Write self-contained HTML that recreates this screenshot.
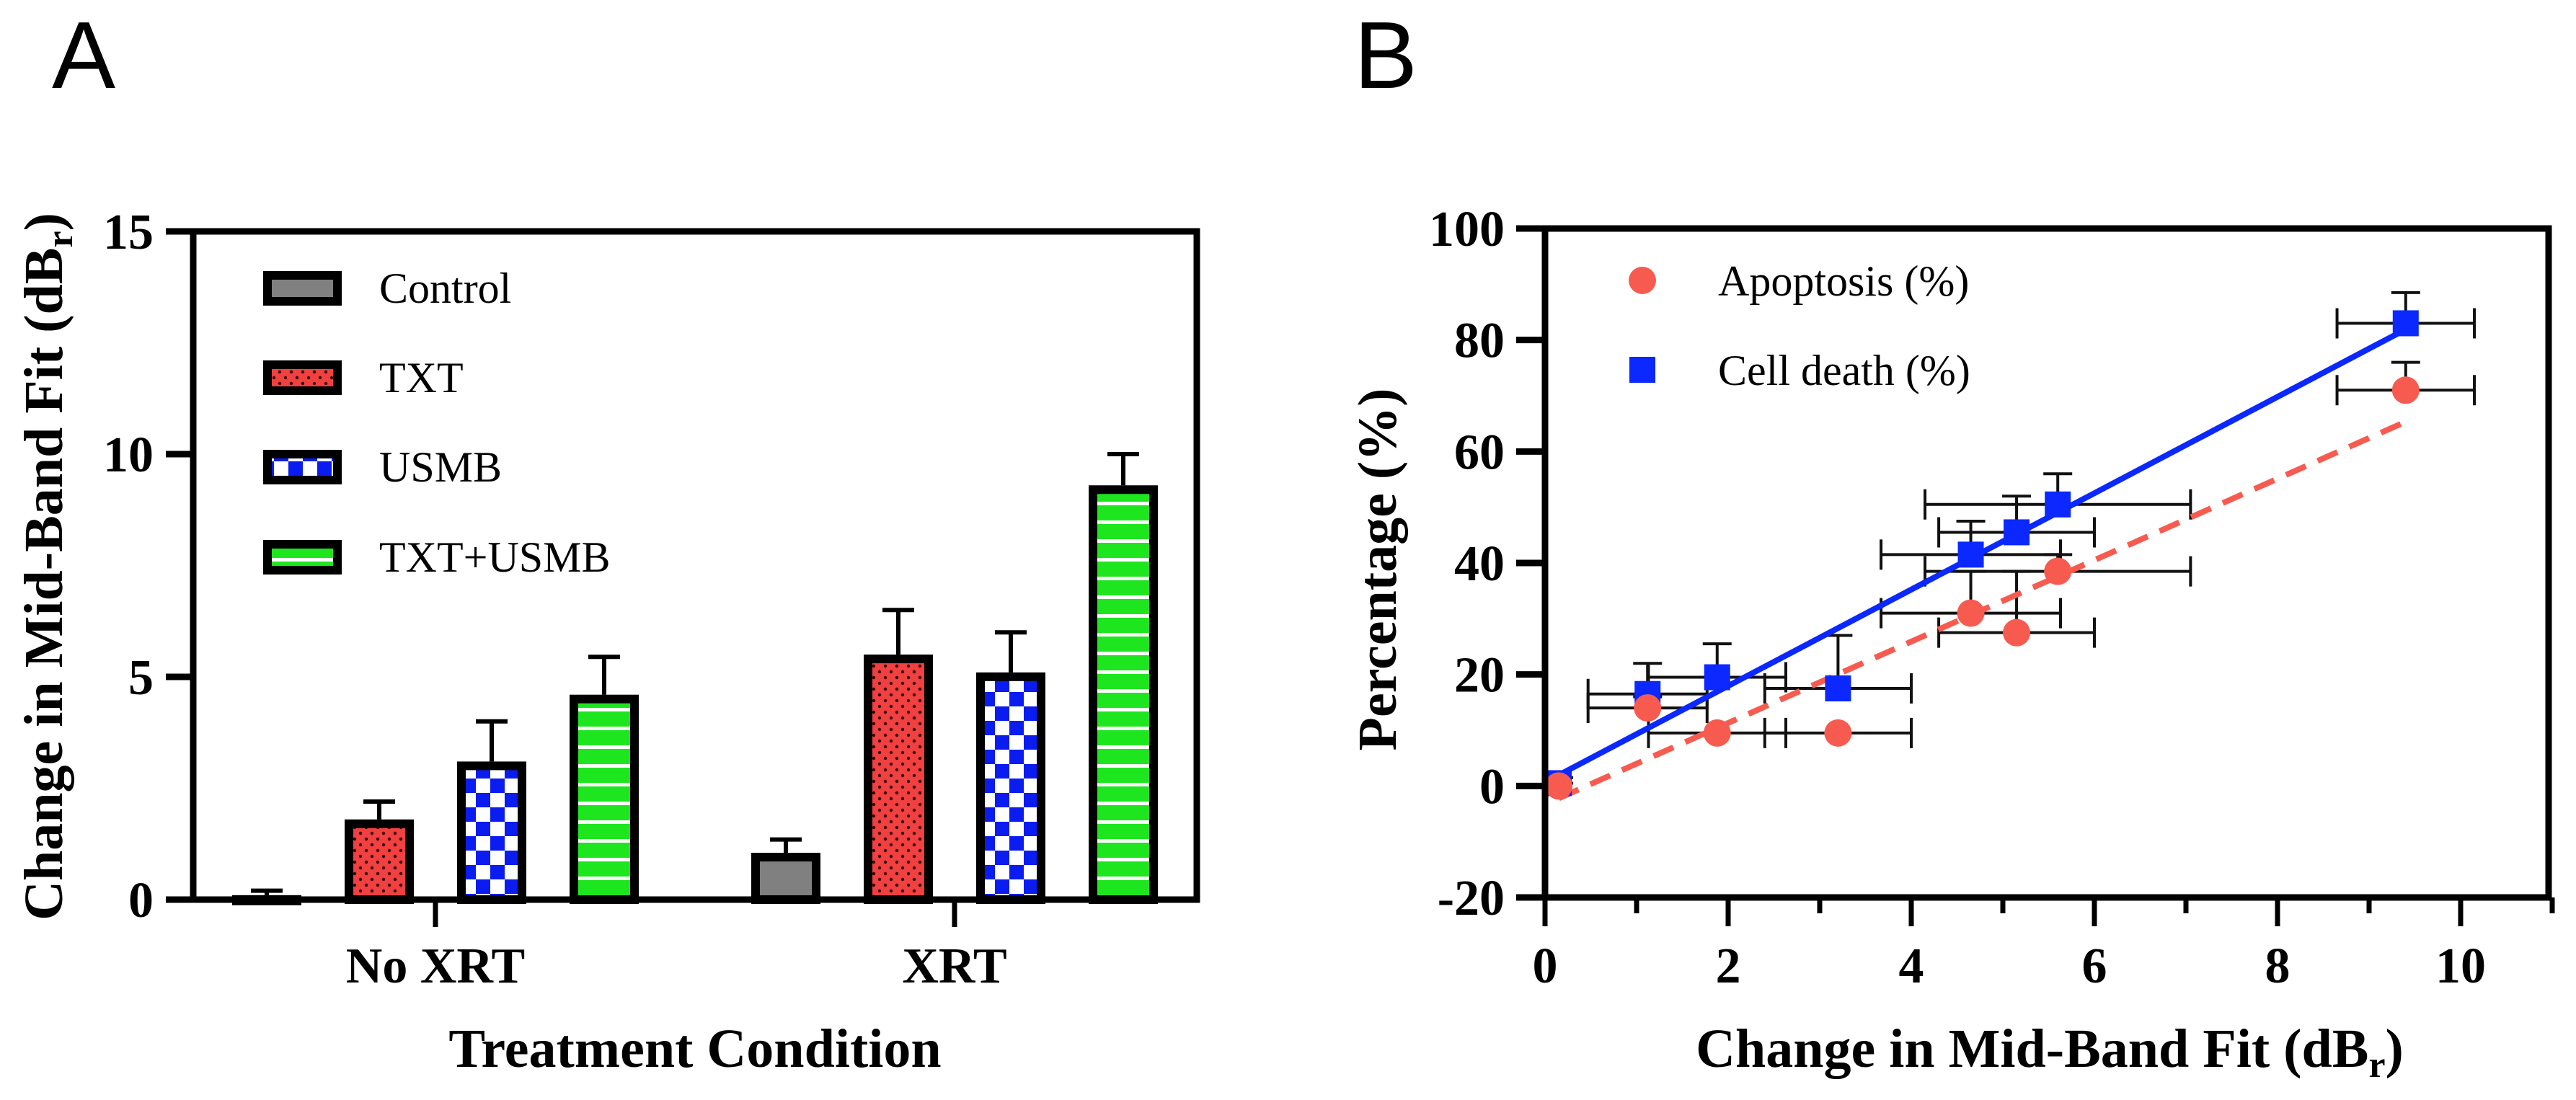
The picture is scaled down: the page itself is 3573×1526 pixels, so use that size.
<!DOCTYPE html>
<html><head><meta charset="utf-8">
<style>
html,body{margin:0;padding:0;background:#fff;}
svg{display:block;}
text{font-family:"Liberation Serif",serif;}
</style></head>
<body>
<svg id="fig" width="3573" height="1526" viewBox="0 0 3573 1526" xmlns="http://www.w3.org/2000/svg">
<defs>
<pattern id="pDots" width="16" height="16" patternUnits="userSpaceOnUse">
<rect width="16" height="16" fill="#f04040"/><circle cx="4" cy="4" r="2.2" fill="#300"/><circle cx="12" cy="12" r="2.2" fill="#300"/>
</pattern>
<pattern id="pCheck" width="40" height="40" patternUnits="userSpaceOnUse">
<rect width="40" height="40" fill="#fff"/><rect width="20" height="20" fill="#0a1cf0"/><rect x="20" y="20" width="20" height="20" fill="#0a1cf0"/>
</pattern>
<pattern id="pStripe" width="20" height="26" patternUnits="userSpaceOnUse">
<rect width="20" height="26" fill="#1ee61e"/><rect y="20" width="20" height="5" fill="#fff"/>
</pattern>
</defs>
<text x="72" y="122" font-size="132" style="font-family:'Liberation Sans',sans-serif">A</text>
<text x="1878" y="122" font-size="132" style="font-family:'Liberation Sans',sans-serif">B</text>
<g id="panelA"></g>
<g id="panelB"></g>
</svg>
<script>
// ---------- Panel A data ----------
const groupsA = ["No XRT", "XRT"];
const seriesA = ["Control", "TXT", "USMB", "TXT+USMB"];
const valuesNoXRT = [0.1, 1.8, 3.1, 4.6];
const valuesXRT = [1.05, 5.5, 5.1, 9.3];
const errNoXRT = [0.1, 0.4, 0.9, 0.85];
const errXRT = [0.3, 1.0, 0.9, 0.7];
const ticksA = [0, 5, 10, 15];
// ---------- Panel B data ----------
const mbfX = [0.15, 1.12, 1.88, 3.2, 4.65, 5.15, 5.6, 9.4];
const mbfXErr = [0, 0.65, 0.75, 0.8, 0.98, 0.85, 1.45, 0.75];
const apoptosis = [0, 14, 9.5, 9.5, 31, 27.5, 38.5, 71];
const apoptosisErr = [0.5, 2, 0, 0, 7.5, 11, 3, 5];
const cellDeath = [0.5, 16.5, 19.5, 17.5, 41.5, 45.5, 50.5, 83];
const cellDeathErr = [1, 5.5, 6, 9.5, 6, 6.5, 5.5, 5.5];
const ticksBY = [-20, 0, 20, 40, 60, 80, 100];
const ticksBX = [0, 2, 4, 6, 8, 10];

const NS = "http://www.w3.org/2000/svg";
function mk(parent, tag, attrs, txt){
  const e = document.createElementNS(NS, tag);
  for (const k in attrs) e.setAttribute(k, attrs[k]);
  if (txt !== undefined) e.textContent = txt;
  parent.appendChild(e);
  return e;
}

// ================= Panel A =================
const A = document.getElementById("panelA");
const aL = 268, aR = 1660, aT = 321, aB = 1248;
const yA = v => aB - (v / 15) * (aB - aT);
const groupCenters = [604, 1324];
const barStep = 156, barW = 96;
const fills = ["#808080", "url(#pDots)", "url(#pCheck)", "url(#pStripe)"];
const barNames = ["control", "txt", "usmb", "txt-usmb"];
const allVals = [valuesNoXRT, valuesXRT];
const allErr = [errNoXRT, errXRT];

groupsA.forEach((g, gi) => {
  seriesA.forEach((s, si) => {
    const cx = groupCenters[gi] + (si - 1.5) * barStep;
    const v = allVals[gi][si], e = allErr[gi][si];
    const yTop = yA(v);
    const eb = mk(A, "path", {d:`M${cx} ${yTop} V${yA(v+e)} M${cx-22} ${yA(v+e)} H${cx+22}`, stroke:"#000", "stroke-width":6, fill:"none"});
    
    
    const h = Math.max(aB - yTop - 6, 2);
    const r = mk(A, "rect", {x:cx - barW/2 + 6, y:yTop + 6, width:barW - 12, height:h, fill:fills[si], stroke:"#000", "stroke-width":12});
    
    
  });
});
mk(A, "path", {d:`M${aL} ${aT} V${aB} H${aR} V${aT} Z`, fill:"none", stroke:"#000", "stroke-width":9,  });
ticksA.forEach(t => {
  const y = yA(t);
  const tk = mk(A, "line", {x1:aL-38, x2:aL, y1:y, y2:y, stroke:"#000", "stroke-width":9});
  
  
  const lb = mk(A, "text", {x:213, y:y+24, "text-anchor":"end", "font-size":70, "font-weight":"bold"}, String(t));
  
  
});
groupsA.forEach((g, gi) => {
  const x = groupCenters[gi];
  const tk = mk(A, "line", {x1:x, x2:x, y1:aB, y2:aB+38, stroke:"#000", "stroke-width":7});
  
  
  const lb = mk(A, "text", {x:x, y:1363, "text-anchor":"middle", "font-size":70, "font-weight":"bold"}, g);
  
  
});
mk(A, "text", {x:964, y:1480, "text-anchor":"middle", "font-size":76, "font-weight":"bold",  }, "Treatment Condition");
const yt = mk(A, "text", {x:0, y:0, "text-anchor":"middle", "font-size":76, "font-weight":"bold", transform:"translate(86 786) rotate(-90)",  });
yt.innerHTML = 'Change in Mid-Band Fit (dB<tspan font-size="52" dy="14">r</tspan><tspan dy="-14">)</tspan>';
const legY = [400, 524, 648, 773];
seriesA.forEach((s, si) => {
  const r = mk(A, "rect", {x:371, y:legY[si]-18, width:97, height:36, fill:fills[si], stroke:"#000", "stroke-width":12});
  
  
  const t = mk(A, "text", {x:526, y:legY[si]+20, "font-size":60}, s);
  
  
});

// ================= Panel B =================
const B = document.getElementById("panelB");
const bL = 2143, bR = 3535, bT = 317, bB = 1245;
const xB = v => bL + v * 127;
const yB = v => bB - (v + 20) / 120 * (bB - bT);

function fit(xs, ys){
  const n = xs.length;
  const mx = xs.reduce((a,b)=>a+b,0)/n, my = ys.reduce((a,b)=>a+b,0)/n;
  let sxy = 0, sxx = 0;
  for (let i=0;i<n;i++){ sxy += (xs[i]-mx)*(ys[i]-my); sxx += (xs[i]-mx)**2; }
  const m = sxy/sxx; return [m, my - m*mx];
}
const x0 = Math.min(...mbfX), x1 = Math.max(...mbfX);
function errBars(ys, yerr, name){
  mbfX.forEach((x, i) => {
    const cx = xB(x), cy = yB(ys[i]);
    let d = "";
    if (mbfXErr[i] > 0){
      const xl = xB(x - mbfXErr[i]), xr = xB(x + mbfXErr[i]);
      d += `M${xl} ${cy} H${xr} M${xl} ${cy-21} V${cy+21} M${xr} ${cy-21} V${cy+21} `;
    }
    if (yerr[i] > 0){
      const ye = yB(ys[i] + yerr[i]);
      d += `M${cx} ${cy} V${ye} M${cx-20} ${ye} H${cx+20}`;
    }
    if (d){
      const p = mk(B, "path", {d:d, stroke:"#111", "stroke-width":4, fill:"none"});
      
      
    }
  });
}
errBars(apoptosis, apoptosisErr, "apoptosis");
errBars(cellDeath, cellDeathErr, "cell-death");
const [ma, ba] = fit(mbfX, apoptosis);
const [mc, bc] = fit(mbfX, cellDeath);
const la = mk(B, "line", {x1:xB(x0), y1:yB(ma*x0+ba), x2:xB(x1), y2:yB(ma*x1+ba), stroke:"#f75b50", "stroke-width":8, "stroke-dasharray":"30 18"});


const lc = mk(B, "line", {x1:xB(x0), y1:yB(mc*x0+bc), x2:xB(x1), y2:yB(mc*x1+bc), stroke:"#0a28ff", "stroke-width":8});


mbfX.forEach((x, i) => {
  const s = mk(B, "rect", {x:xB(x)-18, y:yB(cellDeath[i])-18, width:36, height:36, fill:"#0a28ff"});
  
  
});
mbfX.forEach((x, i) => {
  const c = mk(B, "circle", {cx:xB(x), cy:yB(apoptosis[i]), r:19, fill:"#f75b50"});
  
  
});
mk(B, "path", {d:`M${bL} ${bT} V${bB} H${bR} V${bT} Z`, fill:"none", stroke:"#000", "stroke-width":9,  });
ticksBY.forEach(t => {
  const y = yB(t);
  const tk = mk(B, "line", {x1:bL-40, x2:bL, y1:y, y2:y, stroke:"#000", "stroke-width":9});
  
  
  const lb = mk(B, "text", {x:2087, y:y+24, "text-anchor":"end", "font-size":70, "font-weight":"bold"}, String(t));
  
  
});
for (let v = 0; v <= 11; v++){
  const major = v % 2 === 0;
  const tk = mk(B, "line", {x1:xB(v), x2:xB(v), y1:bB, y2:bB + (major ? 40 : 22), stroke:"#000", "stroke-width":7});
  
  
}
ticksBX.forEach(t => {
  const lb = mk(B, "text", {x:xB(t), y:1363, "text-anchor":"middle", "font-size":70, "font-weight":"bold"}, String(t));
  
  
});
const xtb = mk(B, "text", {x:2843, y:1480, "text-anchor":"middle", "font-size":76, "font-weight":"bold",  });
xtb.innerHTML = 'Change in Mid-Band Fit (dB<tspan font-size="52" dy="14">r</tspan><tspan dy="-14">)</tspan>';
mk(B, "text", {x:0, y:0, "text-anchor":"middle", "font-size":76, "font-weight":"bold", transform:"translate(1936 790) rotate(-90)",  }, "Percentage (%)");
mk(B, "circle", {cx:2278, cy:389, r:19, fill:"#f75b50",  });
mk(B, "text", {x:2383, y:410, "font-size":60,  }, "Apoptosis (%)");
mk(B, "rect", {x:2260, y:495, width:36, height:36, fill:"#0a28ff",  });
mk(B, "text", {x:2383, y:534, "font-size":60,  }, "Cell death (%)");
</script>
</body></html>
